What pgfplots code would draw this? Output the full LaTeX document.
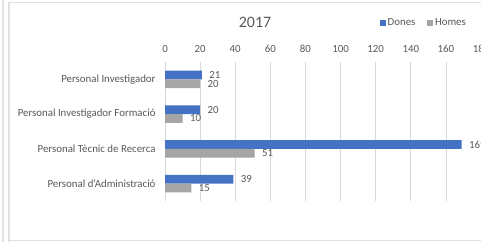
\documentclass[border=0pt]{standalone}
\usepackage{pgfplots}
\pgfplotsset{compat=1.18}
\usepackage{fontspec}
\setmainfont{Carlito}
\definecolor{cblue}{HTML}{4472C4}
\definecolor{cgray}{HTML}{A5A5A5}
\definecolor{ctext}{HTML}{595959}
\definecolor{cgrid}{HTML}{D9D9D9}
\definecolor{cframe}{HTML}{E0E0E0}
\begin{document}
\begin{tikzpicture}[x=1bp,y=1bp]
\useasboundingbox (0,0) rectangle (481,242);
\clip (0,0) rectangle (481,242);
\fill[white] (0,0) rectangle (481,242);
\draw[cframe,line width=1.2bp] (3,0) -- (3,242);
\draw[cframe,line width=1.2bp] (9,0) -- (9,239.5) -- (490,239.5);
\draw[cframe,line width=1.2bp] (9,1.2) -- (490,1.2);
\node[ctext,font=\fontsize{16}{18}\selectfont] at (255,220) {2017};
\begin{axis}[
  at={(165bp,41bp)}, anchor=south west,
  scale only axis, width=316bp, height=139bp,
  xmin=0, xmax=180, ymin=-0.5, ymax=3.5,
  xbar, bar width=8.7bp,
  xtick={0,20,...,180},
  xticklabel pos=upper,
  ytick={0,1,2,3},
  yticklabels={Personal d'Administració,Personal Tècnic de Recerca,Personal Investigador Formació,Personal Investigador},
  major tick length=0pt,
  axis line style={draw=none},
  xmajorgrids, grid style={cgrid,line width=0.8bp},
  tick label style={ctext,font=\fontsize{10.9}{12}\selectfont},
  /pgf/number format/assume math mode=true,
  xticklabel style={yshift=6bp},
  yticklabel style={xshift=-6bp},
  nodes near coords,
  nodes near coords style={ctext,font=\fontsize{10.9}{12}\selectfont,anchor=west,xshift=4bp,inner ysep=0pt},
  legend style={at={(axis description cs:0.68,1.28)}, anchor=west, draw=none, fill=none,
    legend columns=2, font=\fontsize{10.9}{12}\selectfont, text=ctext,
    /tikz/every even column/.append style={column sep=10bp}, inner sep=0pt, cells={anchor=west}},
  legend image code/.code={\fill[#1] (0bp,-2.8bp) rectangle (5.6bp,2.8bp);},
]
\addplot[fill=cblue,draw=none,bar shift=4.35bp] coordinates {(39,0) (169,1) (20,2) (21,3)};
\addplot[fill=cgray,draw=none,bar shift=-4.35bp] coordinates {(15,0) (51,1) (10,2) (20,3)};
\legend{Dones,Homes}
\end{axis}
\end{tikzpicture}
\end{document}
